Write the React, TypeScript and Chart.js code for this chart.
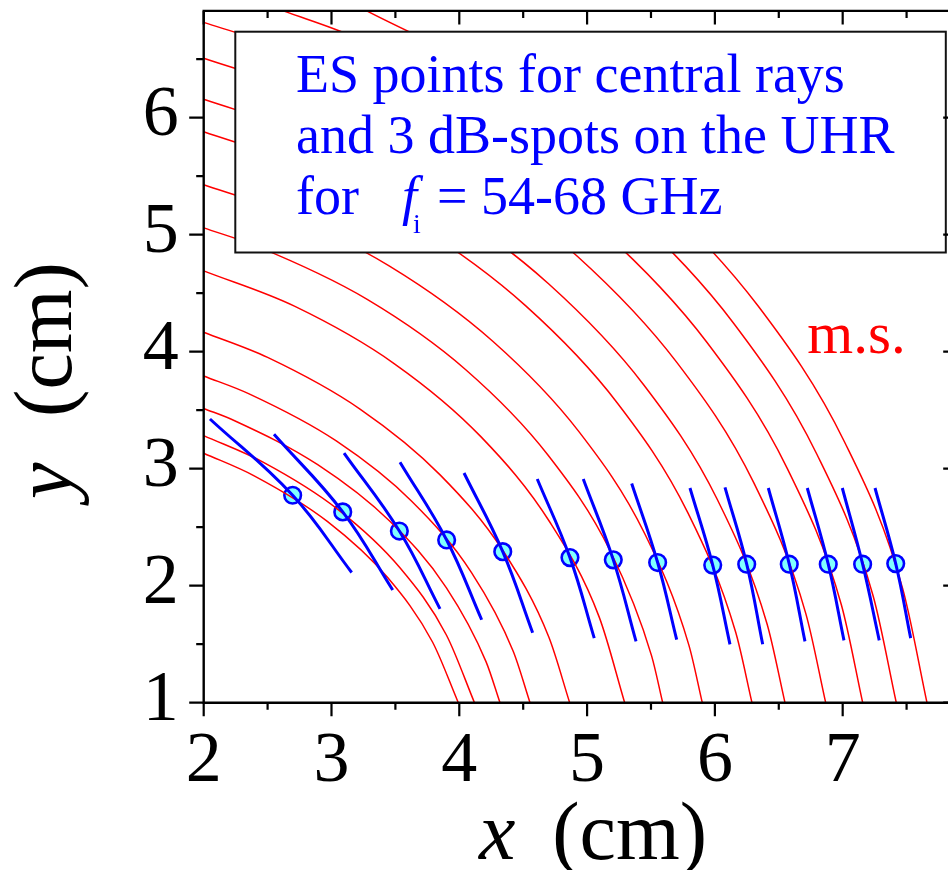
import React, { useEffect, useRef } from "react";
import { Chart, registerables } from "chart.js";

Chart.register(...registerables);

// ---------- axis ranges and ticks ----------
const X_MIN = 2;
const X_MAX = 7.9;
const Y_MIN = 1;
const Y_MAX = 6.913;
const X_MAJOR = [2, 3, 4, 5, 6, 7];
const X_MINOR = [2.5, 3.5, 4.5, 5.5, 6.5, 7.5];
const Y_MAJOR = [1, 2, 3, 4, 5, 6];
const Y_MINOR = [1.5, 2.5, 3.5, 4.5, 5.5, 6.5];

// ---------- magnetic surfaces (m.s.), [x, y] in cm ----------
const MS_01 = [[2, 3.1326], [2.395, 2.939], [2.9672, 2.5495], [3.4394, 2.0693], [3.7904, 1.5187], [3.9922, 1]];
const MS_02 = [[2, 3.2829], [2.4643, 3.0563], [3.052, 2.6505], [3.5373, 2.1511], [3.899, 1.5789], [4.1189, 1]];
const MS_03 = [[2, 3.5149], [2.2376, 3.4122], [2.8921, 3.0344], [3.4549, 2.5523], [3.8993, 1.982], [4.2098, 1.3491], [4.3185, 1]];
const MS_04 = [[2, 3.7927], [2.3511, 3.6417], [3.0375, 3.2372], [3.6275, 2.7221], [4.0944, 2.114], [4.4219, 1.4393], [4.5532, 1]];
const MS_05 = [[2, 4.1666], [2.5, 3.9511], [3.2258, 3.5077], [3.8498, 2.9475], [4.347, 2.29], [4.7004, 1.561], [4.8638, 1]];
const MS_06 = [[2, 4.6907], [2.71, 4.389], [3.4953, 3.8948], [4.1705, 3.2721], [4.7093, 2.5422], [5.0942, 1.7336], [5.2942, 1]];
const MS_07 = [[2, 5.0586], [2.4085, 4.9042], [3.2794, 4.4471], [4.0506, 3.8462], [4.692, 3.1195], [5.1821, 2.2945], [5.5048, 1.4005], [5.5915, 1]];
const MS_08 = [[2, 5.4265], [2.5366, 5.2252], [3.4508, 4.734], [4.2597, 4.0919], [4.9346, 3.3191], [5.4523, 2.4422], [5.7965, 1.4919], [5.9014, 1]];
const MS_09 = [[2, 5.8802], [2.6964, 5.6177], [3.664, 5.0835], [4.5201, 4.3913], [5.2364, 3.5621], [5.7889, 2.6225], [6.1623, 1.6041], [6.2903, 1]];
const MS_10 = [[2, 6.1572], [2.8045, 5.8579], [3.8107, 5.3009], [4.7006, 4.5786], [5.4454, 3.714], [6.0201, 2.7344], [6.4084, 1.6726], [6.5485, 1]];
const MS_11 = [[2, 6.5089], [2.9376, 6.1627], [3.9913, 5.5761], [4.9234, 4.8163], [5.7035, 3.9068], [6.306, 2.8766], [6.7121, 1.7594], [6.867, 1]];
const MS_12 = [[2, 6.8148], [3.0588, 6.434], [4.1562, 5.8222], [5.1264, 5.0284], [5.9387, 4.0788], [6.566, 3.0032], [6.9895, 1.8371], [7.1565, 1]];
const MS_13 = [[2.6228, 6.9133], [3.166, 6.6951], [4.3008, 6.0565], [5.3051, 5.2313], [6.1464, 4.2438], [6.797, 3.1254], [7.2384, 1.9125], [7.4194, 1]];
const MS_14 = [[3.2754, 6.9133], [4.436, 6.2576], [5.473, 5.4061], [6.3415, 4.386], [7.0136, 3.2304], [7.4689, 1.9768], [7.6596, 1]];
const MS_CURVES = [MS_01, MS_02, MS_03, MS_04, MS_05, MS_06, MS_07, MS_08, MS_09, MS_10, MS_11, MS_12, MS_13, MS_14];

// ---------- ES points (central rays) ----------
const ES_X = [2.696, 3.088, 3.531, 3.901, 4.34, 4.866, 5.205, 5.552, 5.983, 6.249, 6.582, 6.887, 7.156, 7.415];
const ES_Y = [2.773, 2.631, 2.467, 2.391, 2.291, 2.24, 2.221, 2.198, 2.176, 2.184, 2.184, 2.184, 2.184, 2.189];

// ---------- 3 dB-spot ends ----------
const SPOT_TOP_X = [2.049, 2.55, 3.098, 3.536, 4.037, 4.61, 4.97, 5.349, 5.805, 6.079, 6.418, 6.723, 6.997, 7.253];
const SPOT_TOP_Y = [3.425, 3.294, 3.133, 3.056, 2.963, 2.912, 2.912, 2.873, 2.835, 2.841, 2.835, 2.835, 2.835, 2.835];
const SPOT_BOT_X = [3.158, 3.479, 3.849, 4.175, 4.574, 5.056, 5.383, 5.701, 6.118, 6.374, 6.705, 7.01, 7.286, 7.532];
const SPOT_BOT_Y = [2.113, 1.963, 1.802, 1.709, 1.598, 1.552, 1.524, 1.539, 1.499, 1.499, 1.524, 1.533, 1.533, 1.552];

// ---------- texts ----------
const LEGEND_LINE_1 = "ES points for central rays";
const LEGEND_LINE_2 = "and 3 dB-spots on the UHR";
const LEGEND_LINE_3A = "for";
const LEGEND_F = "f";
const LEGEND_SUB = "i";
const LEGEND_LINE_3B = "= 54-68 GHz";
const MS_LABEL = "m.s.";
const X_TITLE_VAR = "x";
const Y_TITLE_VAR = "y";
const TITLE_UNIT = "(cm)";

// ---------- styles ----------
const SERIF = '"Liberation Serif", "Times New Roman", serif';
const RED = "#ff0000";
const BLUE = "#0000ff";
const CYAN = "#80ffff";

const decorPlugin = {
  id: "decor",
  afterDatasetsDraw(chart: any) {
    const ctx: CanvasRenderingContext2D = chart.ctx;
    const xs = chart.scales.x;
    const ys = chart.scales.y;
    const { left, right, top, bottom } = chart.chartArea;
    ctx.save();

    // legend box
    ctx.fillStyle = "#ffffff";
    ctx.fillRect(235.3, 31.7, 710.5, 220.8);
    ctx.strokeStyle = "#111";
    ctx.lineWidth = 2;
    ctx.strokeRect(235.3, 31.7, 710.5, 220.8);

    ctx.fillStyle = BLUE;
    ctx.textAlign = "left";
    ctx.textBaseline = "alphabetic";
    ctx.font = `54px ${SERIF}`;
    ctx.fillText(LEGEND_LINE_1, 296, 91.7);
    ctx.fillText(LEGEND_LINE_2, 296, 152.9);
    ctx.fillText(LEGEND_LINE_3A, 296, 214.1);
    ctx.font = `italic 54px ${SERIF}`;
    ctx.fillText(LEGEND_F, 402, 214.1);
    ctx.font = `28px ${SERIF}`;
    ctx.fillText(LEGEND_SUB, 413, 232.5);
    ctx.font = `54px ${SERIF}`;
    ctx.fillText(LEGEND_LINE_3B, 437, 214.1);

    // m.s. label
    ctx.fillStyle = RED;
    ctx.font = `59px ${SERIF}`;
    ctx.fillText(MS_LABEL, 807.3, 353.3);

    // frame
    ctx.strokeStyle = "#000";
    ctx.lineWidth = 2.4;
    ctx.beginPath();
    ctx.rect(left, top, right - left, bottom - top);
    ctx.stroke();

    // ticks
    ctx.lineWidth = 2.2;
    ctx.beginPath();
    for (const v of X_MAJOR) {
      const p = xs.getPixelForValue(v);
      ctx.moveTo(p, bottom); ctx.lineTo(p, bottom + 13.5);
      ctx.moveTo(p, top); ctx.lineTo(p, top + 13.5);
    }
    for (const v of X_MINOR) {
      const p = xs.getPixelForValue(v);
      ctx.moveTo(p, bottom); ctx.lineTo(p, bottom + 7);
      ctx.moveTo(p, top); ctx.lineTo(p, top + 7);
    }
    for (const v of Y_MAJOR) {
      const p = ys.getPixelForValue(v);
      ctx.moveTo(left - 14.5, p); ctx.lineTo(left, p);
      ctx.moveTo(right, p); ctx.lineTo(right - 14.5, p);
    }
    for (const v of Y_MINOR) {
      const p = ys.getPixelForValue(v);
      ctx.moveTo(left - 7.5, p); ctx.lineTo(left, p);
      ctx.moveTo(right, p); ctx.lineTo(right - 7.5, p);
    }
    ctx.stroke();

    // axis titles
    ctx.fillStyle = "#000";
    ctx.font = `italic 82px ${SERIF}`;
    ctx.fillText(X_TITLE_VAR, 479, 858.5);
    ctx.font = `82px ${SERIF}`;
    ctx.fillText(TITLE_UNIT, 552.3, 858.5);

    ctx.translate(70.5, 0);
    ctx.rotate(-Math.PI / 2);
    ctx.font = `italic 82px ${SERIF}`;
    ctx.fillText(Y_TITLE_VAR, -499, 0);
    ctx.font = `82px ${SERIF}`;
    ctx.fillText(TITLE_UNIT, -416.9, 0);

    ctx.restore();
  },
};

function buildDatasets() {
  const sets: any[] = [];
  sets.push({
    data: ES_X.map((x, i) => ({ x, y: ES_Y[i] })),
    showLine: false,
    pointRadius: 8.3,
    pointHoverRadius: 8.3,
    pointBackgroundColor: CYAN,
    pointBorderColor: BLUE,
    pointBorderWidth: 2.6,
    order: 3,
  });
  MS_CURVES.forEach((c) => {
    sets.push({
      data: c.map(([x, y]) => ({ x, y })),
      showLine: true,
      borderColor: RED,
      borderWidth: 1.5,
      cubicInterpolationMode: "monotone",
      pointRadius: 0,
      pointHoverRadius: 0,
      fill: false,
      order: 2,
    });
  });
  SPOT_TOP_X.forEach((tx, i) => {
    sets.push({
      data: [
        { x: tx, y: SPOT_TOP_Y[i] },
        { x: ES_X[i], y: ES_Y[i] },
        { x: SPOT_BOT_X[i], y: SPOT_BOT_Y[i] },
      ],
      showLine: true,
      borderColor: BLUE,
      borderWidth: 3,
      tension: 0.4,
      pointRadius: 0,
      pointHoverRadius: 0,
      fill: false,
      order: 1,
    });
  });
  return sets;
}

export default function App() {
  const ref = useRef<HTMLCanvasElement | null>(null);

  useEffect(() => {
    if (!ref.current) return;
    const chart = new Chart(ref.current, {
      type: "scatter",
      data: { datasets: buildDatasets() },
      options: {
        animation: false,
        responsive: false,
        maintainAspectRatio: false,
        events: [],
        layout: { padding: { top: 6.7, right: 12.3, left: 0, bottom: 0 } },
        plugins: { legend: { display: false }, tooltip: { enabled: false } },
        scales: {
          x: {
            type: "linear",
            min: X_MIN,
            max: X_MAX,
            border: { display: false },
            grid: { display: false, drawTicks: false },
            ticks: {
              stepSize: 1,
              includeBounds: false,
              autoSkip: false,
              maxRotation: 0,
              padding: 15.8,
              color: "#000",
              font: { family: SERIF, size: 72 },
            },
            afterFit: (s: any) => {
              s.height = 167.3;
              s.paddingLeft = 0;
              s.paddingRight = 0;
            },
          },
          y: {
            type: "linear",
            min: Y_MIN,
            max: Y_MAX,
            border: { display: false },
            grid: { display: false, drawTicks: false },
            ticks: {
              stepSize: 1,
              includeBounds: false,
              autoSkip: false,
              padding: 25,
              labelOffset: -2,
              color: "#000",
              font: { family: SERIF, size: 72 },
            },
            afterFit: (s: any) => {
              s.width = 203.7;
              s.paddingTop = 0;
              s.paddingBottom = 0;
            },
          },
        },
      } as any,
      plugins: [decorPlugin],
    });
    return () => chart.destroy();
  }, []);

  return (
    <div
      style={{
        position: "absolute",
        left: 0,
        top: 0,
        width: 948,
        height: 870,
        overflow: "hidden",
        background: "#ffffff",
      }}
    >
      <canvas ref={ref} width={970} height={870} style={{ display: "block", width: 970, height: 870 }} />
    </div>
  );
}
